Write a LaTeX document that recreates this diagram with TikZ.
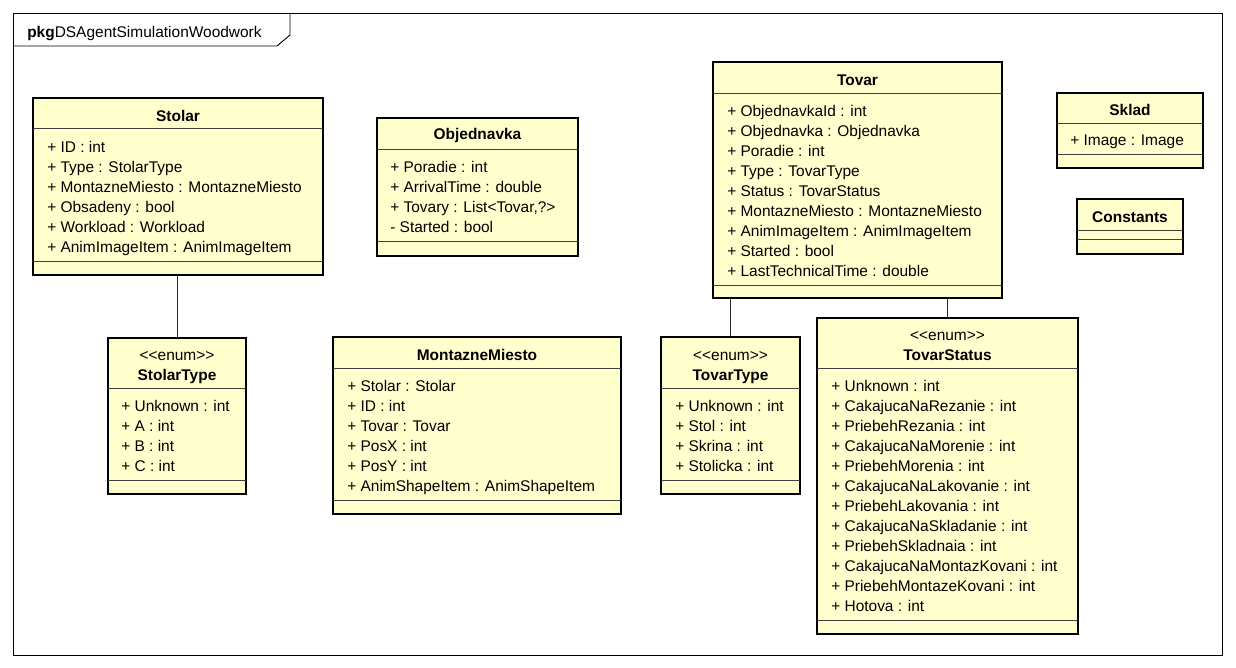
\documentclass[tikz,border=0pt]{standalone}
\usepackage{fontspec}
\setmainfont{Liberation Sans}
\usetikzlibrary{fit}
\definecolor{classfill}{RGB}{255,255,206}
\definecolor{linkgray}{RGB}{40,40,40}
\tikzset{
  classbox/.style={draw=black, line width=2.2pt, fill=classfill, inner sep=0pt},
  sepline/.style={draw=black!75, line width=0.6pt},
  frameline/.style={draw=black, line width=0.7pt},
  assoc/.style={draw=linkgray, line width=0.7pt},
  txt/.style={inner sep=0pt, text height=8pt, text depth=2.5pt, yshift=-2pt, font=\fontsize{11.6}{13}\selectfont},
  attr/.style={txt, anchor=west},
  ctitle/.style={txt, font=\fontsize{11.6}{13}\selectfont\bfseries},
  stereo/.style={txt},
}
% class box: name, x1, y1, x2, y2, header separator y, lower separator y
\newcommand\umlbox[7]{%
  \node[classbox, fit={(#2,#3) (#4,#5)}] (#1) {};
  \draw[sepline] (#2,#6) -- (#4,#6);
  \draw[sepline] (#2,#7) -- (#4,#7);
}
% attribute lines: name, x, first y, items
\newcommand\attrlist[4]{%
  \foreach \t [count=\i from 0] in {#4} {\node[attr, name=#1-\i] at (#2, #3+20*\i) {\t};}
}
% stereotype text, kept apart so the angle brackets stay as typed
\newcommand\enumtag{<\kern0pt<enum>\kern0pt>}
\begin{document}
\begin{tikzpicture}[x=0.75pt, y=-0.75pt]
\useasboundingbox (0,0) rectangle (1236,668);

% package frame
\draw[frameline] (13,13) rectangle (1222,655);
\draw[frameline] (13,46) -- (277,46) -- (290,35) -- (290,13);
\node[attr, name=pkgname] at (27,31) {{\bfseries pkg}DSAgentSimulationWoodwork};

% Stolar
\umlbox{stolar}{33}{98}{323}{275}{128}{261}
\node[ctitle] (stolar-t) at (178,115) {Stolar};
\attrlist{stolar}{47}{146}{{+ ID : int},{+ Type : StolarType},{+ MontazneMiesto : MontazneMiesto},{+ Obsadeny : bool},{+ Workload : Workload},{+ AnimImageItem : AnimImageItem}}

% StolarType
\umlbox{stolartype}{108}{338}{246}{494}{388}{480}
\node[stereo] (stolartype-s) at (177,354) {\enumtag};
\node[ctitle] (stolartype-t) at (177,374) {StolarType};
\attrlist{stolartype}{121}{405}{{+ Unknown : int},{+ A : int},{+ B : int},{+ C : int}}

% Objednavka
\umlbox{objednavka}{377}{118}{578}{256}{149}{241}
\node[ctitle] (objednavka-t) at (477.5,133) {Objednavka};
\attrlist{objednavka}{390}{166}{{+ Poradie : int},{+ ArrivalTime : double},{+ Tovary : List<Tovar,?>},{- Started : bool}}

% MontazneMiesto
\umlbox{miesto}{333}{337}{621}{514}{368}{500}
\node[ctitle] (miesto-t) at (477,354) {MontazneMiesto};
\attrlist{miesto}{347}{385}{{+ Stolar : Stolar},{+ ID : int},{+ Tovar : Tovar},{+ PosX : int},{+ PosY : int},{+ AnimShapeItem : AnimShapeItem}}

% Tovar
\umlbox{tovar}{713}{62}{1002}{298}{93}{285}
\node[ctitle] (tovar-t) at (857.5,79) {Tovar};
\attrlist{tovar}{727}{110}{{+ ObjednavkaId : int},{+ Objednavka : Objednavka},{+ Poradie : int},{+ Type : TovarType},{+ Status : TovarStatus},{+ MontazneMiesto : MontazneMiesto},{+ AnimImageItem : AnimImageItem},{+ Started : bool},{+ LastTechnicalTime : double}}

% TovarType
\umlbox{tovartype}{661}{337}{800}{494}{388}{480}
\node[stereo] (tovartype-s) at (730.5,354) {\enumtag};
\node[ctitle] (tovartype-t) at (730.5,374) {TovarType};
\attrlist{tovartype}{675}{405}{{+ Unknown : int},{+ Stol : int},{+ Skrina : int},{+ Stolicka : int}}

% TovarStatus
\umlbox{tovarstatus}{817}{318}{1078}{634}{368}{620}
\node[stereo] (tovarstatus-s) at (947.5,334) {\enumtag};
\node[ctitle] (tovarstatus-t) at (947.5,354) {TovarStatus};
\attrlist{tovarstatus}{831}{385}{{+ Unknown : int},{+ CakajucaNaRezanie : int},{+ PriebehRezania : int},{+ CakajucaNaMorenie : int},{+ PriebehMorenia : int},{+ CakajucaNaLakovanie : int},{+ PriebehLakovania : int},{+ CakajucaNaSkladanie : int},{+ PriebehSkladnaia : int},{+ CakajucaNaMontazKovani : int},{+ PriebehMontazeKovani : int},{+ Hotova : int}}

% Sklad
\umlbox{sklad}{1057}{93}{1203}{168}{123}{154}
\node[ctitle] (sklad-t) at (1130,109) {Sklad};
\attrlist{sklad}{1070}{139}{{+ Image : Image}}

% Constants
\umlbox{constants}{1077}{199}{1183}{254}{230}{239}
\node[ctitle] (constants-t) at (1130,216) {Constants};

% associations
\draw[assoc] (stolar.south -| stolartype.north) -- (stolartype.north);
\draw[assoc] (tovar.south -| tovartype.north) -- (tovartype.north);
\draw[assoc] (tovar.south -| tovarstatus.north) -- (tovarstatus.north);
\end{tikzpicture}
\end{document}
